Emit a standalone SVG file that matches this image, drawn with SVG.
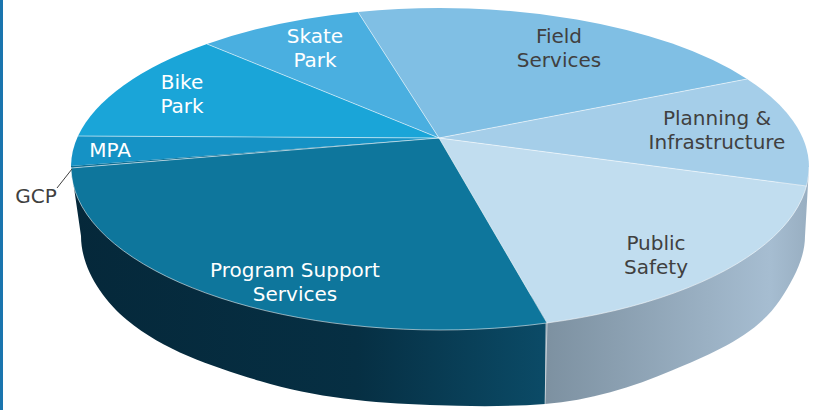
<svg xmlns="http://www.w3.org/2000/svg" width="817" height="410" viewBox="0 0 817 410">
<defs>
<linearGradient id="gDark" gradientUnits="userSpaceOnUse" x1="71" y1="0" x2="547" y2="0">
<stop offset="0" stop-color="#05283a"/>
<stop offset="0.6" stop-color="#062f43"/>
<stop offset="1" stop-color="#0b4b67"/>
</linearGradient>
<linearGradient id="gGrey" gradientUnits="userSpaceOnUse" x1="547" y1="0" x2="809" y2="0">
<stop offset="0" stop-color="#7d91a1"/>
<stop offset="0.85" stop-color="#a6bdd1"/>
<stop offset="1" stop-color="#98aec1"/>
</linearGradient>
</defs>
<style>
.sep{stroke:#ffffff;stroke-opacity:0.55;stroke-width:1;fill:none}
.lbl{font-family:"DejaVu Sans",sans-serif;font-size:20px;text-anchor:middle}
.w{fill:#ffffff}
.d{fill:#404040}
</style>
<rect x="0" y="0" width="817" height="410" fill="#ffffff"/>
<rect x="0" y="0" width="3" height="410" fill="#1a75ae"/>
<g id="side">
<path d="M71,167 L81,236 C81,268 102.4,299.5 127,320 C164.6,351.2 213.3,366.7 260,381 C314.7,397.8 372.8,402.9 430,405 C468.3,406.4 506.8,407 545,404 L546,300 Z" fill="url(#gDark)"/>
<path d="M546,300 L545,404 C589,400.5 632.5,387.4 673,370 C712.2,353.2 756.4,335.5 780,300 C792.7,280.9 805,258.9 805,236 L809,167 Z" fill="url(#gGrey)"/>
<line class="sep" x1="547" y1="323" x2="545" y2="404"/>
</g>
<g id="field-services">
<path d="M439,138 L358,12 A369,159 0 0 1 747,79 Z" fill="#80bfe4"/>
</g>
<g id="planning-infrastructure">
<path d="M439,138 L747,79 A369,159 0 0 1 809,167 A369,163 0 0 1 806.5,186 Z" fill="#a5cee9"/>
</g>
<g id="public-safety">
<path d="M439,138 L806.5,186 A369,163 0 0 1 547,323 Z" fill="#c1ddef"/>
</g>
<g id="program-support-services">
<path d="M439,138 L547,323 A369,163 0 0 1 71,168 Z" fill="#0e769c"/>
</g>
<g id="gcp">
<path d="M439,138 L71,168 L71,166 Z" fill="#0e6f94"/>
</g>
<g id="mpa">
<path d="M439,138 L71,166 A369,159 0 0 1 78,136 Z" fill="#1592c5"/>
</g>
<g id="bike-park">
<path d="M439,138 L78,136 A369,159 0 0 1 207,44 Z" fill="#1aa5d8"/>
</g>
<g id="skate-park">
<path d="M439,138 L207,44 A369,159 0 0 1 358,12 Z" fill="#4aafe0"/>
</g>
<g id="connectors">
<line class="sep" x1="439" y1="138" x2="358" y2="12"/>
<line class="sep" x1="439" y1="138" x2="747" y2="79"/>
<line class="sep" x1="439" y1="138" x2="806.5" y2="186"/>
<line class="sep" x1="439" y1="138" x2="547" y2="323"/>
<line class="sep" x1="439" y1="138" x2="71" y2="168"/>
<line class="sep" x1="439" y1="138" x2="78" y2="136"/>
<line class="sep" x1="439" y1="138" x2="207" y2="44"/>
<path class="sep" d="M71,167 A369,163 0 0 0 809,167"/>
<line x1="57" y1="188" x2="72" y2="169" stroke="#404040" stroke-width="1"/>
</g>
<g id="labels">
<text class="lbl d" x="559" y="43">Field</text>
<text class="lbl d" x="559" y="67">Services</text>
<text class="lbl d" x="717" y="125">Planning &amp;</text>
<text class="lbl d" x="717" y="149">Infrastructure</text>
<text class="lbl d" x="656" y="250">Public</text>
<text class="lbl d" x="656" y="274">Safety</text>
<text class="lbl w" x="295" y="277">Program Support</text>
<text class="lbl w" x="295" y="301">Services</text>
<text class="lbl w" x="315" y="43">Skate</text>
<text class="lbl w" x="315" y="67">Park</text>
<text class="lbl w" x="182" y="89">Bike</text>
<text class="lbl w" x="182" y="113">Park</text>
<text class="lbl w" x="110" y="157">MPA</text>
<text class="lbl d" x="36" y="203">GCP</text>
</g>
</svg>
